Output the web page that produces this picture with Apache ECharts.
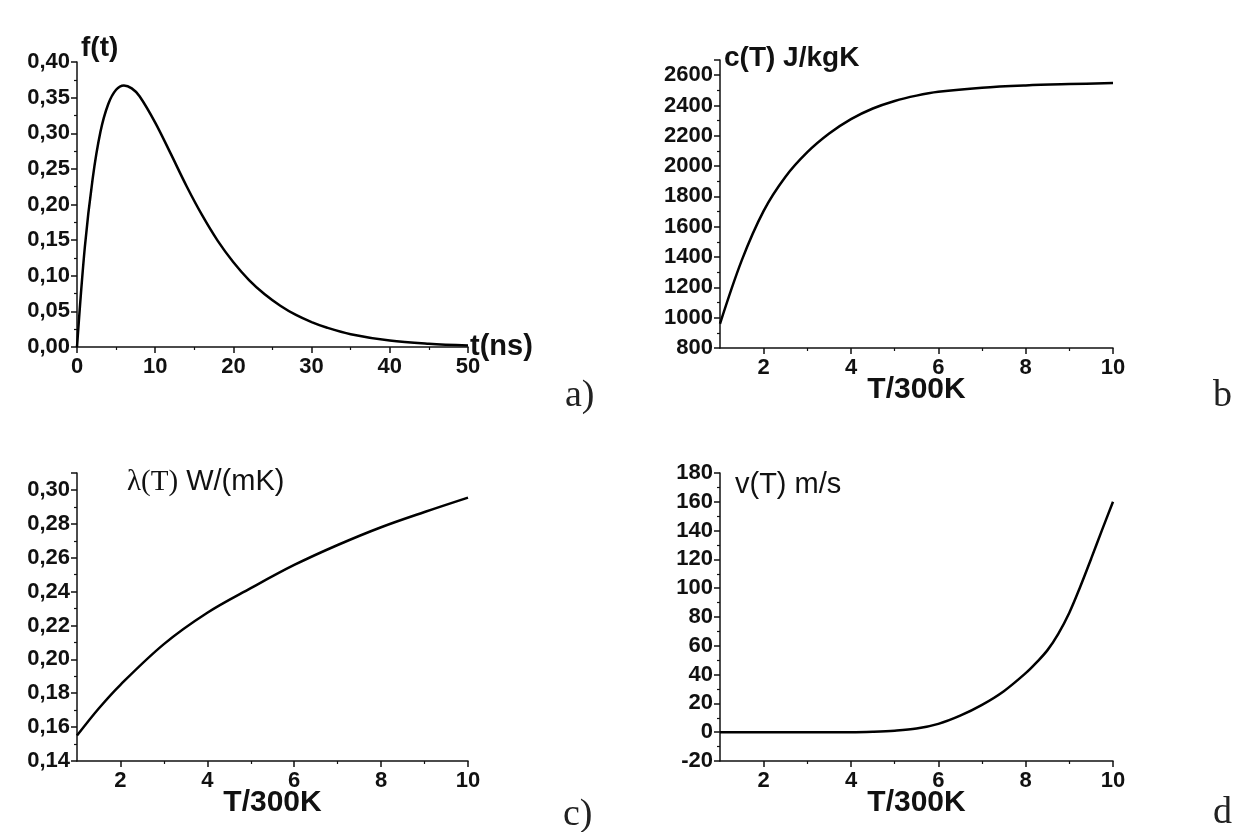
<!DOCTYPE html>
<html>
<head>
<meta charset="utf-8">
<script src="https://cdn.jsdelivr.net/npm/echarts@6/dist/echarts.min.js"></script>
<style>html,body{margin:0;padding:0;background:#fff}#main{width:1234px;height:832px}</style>
</head>
<body>
<div id="main"></div>
<script>
// a) pulse shape f(t)
var tNs = [0, 1, 2, 3, 4, 5, 6, 7, 8, 10, 12, 14, 16, 18, 20, 22, 24, 26, 28, 30, 32, 35, 40, 45, 50];
var fT = [0, 0.14, 0.236, 0.302, 0.341, 0.361, 0.367, 0.363, 0.352, 0.315, 0.271, 0.226, 0.185, 0.149, 0.119, 0.094, 0.074, 0.058, 0.045, 0.035, 0.027, 0.018, 0.009, 0.0045, 0.002];
// b) heat capacity c(T)
var tempB = [1, 1.5, 2, 2.5, 3, 3.5, 4, 4.5, 5, 5.5, 6, 7, 8, 9, 10];
var heatCap = [960, 1380, 1705, 1930, 2092, 2215, 2310, 2380, 2430, 2465, 2490, 2517, 2532, 2541, 2548];
// c) conductivity lambda(T)
var tempC = [1, 1.5, 2, 3, 4, 5, 6, 7, 8, 9, 10];
var lambdaT = [0.155, 0.171, 0.185, 0.209, 0.2275, 0.242, 0.2557, 0.2675, 0.278, 0.287, 0.2955];
// d) velocity v(T)
var tempD = [1, 2, 3, 4, 4.5, 5, 5.5, 6, 6.5, 7, 7.5, 8, 8.25, 8.5, 8.75, 9, 9.25, 9.5, 9.75, 10];
var velocity = [0, 0, 0, 0, 0.3, 1, 2.5, 5.8, 11.5, 19, 28.5, 41, 48.5, 57, 68.5, 83, 101, 120.5, 140.5, 160];
// tick labels on the temperature axes
var tempTicks = [2, 4, 6, 8, 10];
var tempMinor = [3, 5, 7, 9];

function pairs(xs, ys) {
	return xs.map(function (x, i) { return [x, ys[i]]; });
}
function comma(v) {
	return v.toFixed(2).replace('.', ',');
}
function plain(v) {
	return String(v);
}

var lblFont = 'Liberation Sans';
var axisColor = '#111';
var tickSize = 22;

function yAx(gi, min, max, interval, fmt, showMax, name, nameStyle, gap) {
	return {
		type: 'value', gridIndex: gi, min: min, max: max, interval: interval,
		splitLine: { show: false },
		axisLine: { show: true, lineStyle: { color: axisColor, width: 1.5 } },
		axisTick: { show: true, inside: false, length: 6, lineStyle: { color: axisColor, width: 1.5 } },
		minorTick: { show: true, splitNumber: 2, length: 3, lineStyle: { color: axisColor, width: 1.2 } },
		axisLabel: { margin: 7, color: '#111', fontFamily: lblFont, fontWeight: 'bold', fontSize: tickSize, formatter: fmt, showMaxLabel: showMax },
		name: name, nameLocation: 'end', nameGap: gap, nameMoveOverlap: false,
		nameTextStyle: nameStyle
	};
}

function tempAx(gi) {
	return {
		type: 'value', gridIndex: gi, min: 1, max: 10, position: 'bottom',
		splitLine: { show: false },
		axisLine: { show: true, onZero: false, lineStyle: { color: axisColor, width: 1.5 } },
		axisTick: { show: true, customValues: tempTicks, length: 6, lineStyle: { color: axisColor, width: 1.5 } },
		axisLabel: { customValues: tempTicks, margin: 9, color: '#111', fontFamily: lblFont, fontWeight: 'bold', fontSize: tickSize },
		name: 'T/300K', nameLocation: 'middle', nameGap: 27, nameMoveOverlap: false,
		nameTextStyle: { color: '#111', fontFamily: lblFont, fontWeight: 'bold', fontSize: 30 }
	};
}
function tempMinorAx(gi) {
	return {
		type: 'value', gridIndex: gi, min: 1, max: 10, position: 'bottom', offset: 0,
		splitLine: { show: false },
		axisLine: { show: false, onZero: false },
		axisTick: { show: true, customValues: tempMinor, length: 3, lineStyle: { color: axisColor, width: 1.2 } },
		axisLabel: { show: false }
	};
}

function curve(xi, yi, data) {
	return {
		type: 'line', xAxisIndex: xi, yAxisIndex: yi, data: data,
		showSymbol: false, smooth: 0.35, silent: true,
		lineStyle: { color: '#000', width: 2.5 }
	};
}

var boldName = { color: '#111', fontFamily: lblFont, fontWeight: 'bold', fontSize: 28, align: 'left', verticalAlign: 'middle' };

var myChart = echarts.init(document.getElementById('main'));
var option = {
	backgroundColor: '#fff',
	animation: false,
	grid: [
		{ left: 77, top: 62, width: 391, height: 285, outerBoundsMode: 'none' },
		{ left: 720, top: 60, width: 393, height: 288, outerBoundsMode: 'none' },
		{ left: 77, top: 473, width: 391, height: 288, outerBoundsMode: 'none' },
		{ left: 720, top: 473, width: 393, height: 288, outerBoundsMode: 'none' }
	],
	xAxis: [
		{
			type: 'value', gridIndex: 0, min: 0, max: 50, interval: 10,
			splitLine: { show: false },
			axisLine: { show: true, onZero: false, lineStyle: { color: axisColor, width: 1.5 } },
			axisTick: { show: true, length: 6, lineStyle: { color: axisColor, width: 1.5 } },
			minorTick: { show: true, splitNumber: 2, length: 3, lineStyle: { color: axisColor, width: 1.2 } },
			axisLabel: { margin: 9, color: '#111', fontFamily: lblFont, fontWeight: 'bold', fontSize: tickSize },
			name: 't(ns)', nameLocation: 'end', nameGap: 2, nameMoveOverlap: false,
			nameTextStyle: { color: '#111', fontFamily: lblFont, fontWeight: 'bold', fontSize: 29 }
		},
		tempAx(1), tempAx(2), tempAx(3),
		tempMinorAx(1), tempMinorAx(2), tempMinorAx(3)
	],
	yAxis: [
		yAx(0, 0, 0.40, 0.05, comma, true, 'f(t)', Object.assign({}, boldName, { padding: [0, 0, 0, 4] }), 14),
		yAx(1, 800, 2700, 200, plain, false, 'c(T) J/kgK', Object.assign({}, boldName, { padding: [0, 0, 0, 4] }), 2),
		yAx(2, 0.14, 0.31, 0.02, comma, false, '{s|λ(T)} W/(mK)', {
			color: '#111', fontFamily: lblFont, fontSize: 29, align: 'left', verticalAlign: 'middle', padding: [0, 0, 0, 50],
			rich: { s: { fontFamily: 'Liberation Serif', fontSize: 29, color: '#111' } }
		}, -9),
		yAx(3, -20, 180, 20, plain, true, 'v(T) m/s', {
			color: '#111', fontFamily: lblFont, fontSize: 29, align: 'left', verticalAlign: 'middle', padding: [0, 0, 0, 15]
		}, -12)
	],
	series: [
		curve(0, 0, pairs(tNs, fT)),
		curve(1, 1, pairs(tempB, heatCap)),
		curve(2, 2, pairs(tempC, lambdaT)),
		curve(3, 3, pairs(tempD, velocity))
	],
	graphic: [
		{ type: 'text', x: 565, y: 396, style: { text: 'a)', fontFamily: 'Liberation Serif', fontSize: 38, fill: '#222', verticalAlign: 'middle' } },
		{ type: 'text', x: 1213, y: 396, style: { text: 'b', fontFamily: 'Liberation Serif', fontSize: 38, fill: '#222', verticalAlign: 'middle' } },
		{ type: 'text', x: 563, y: 815, style: { text: 'c)', fontFamily: 'Liberation Serif', fontSize: 38, fill: '#222', verticalAlign: 'middle' } },
		{ type: 'text', x: 1213, y: 813, style: { text: 'd', fontFamily: 'Liberation Serif', fontSize: 38, fill: '#222', verticalAlign: 'middle' } }
	]
};
myChart.setOption(option);
</script>
</body>
</html>
